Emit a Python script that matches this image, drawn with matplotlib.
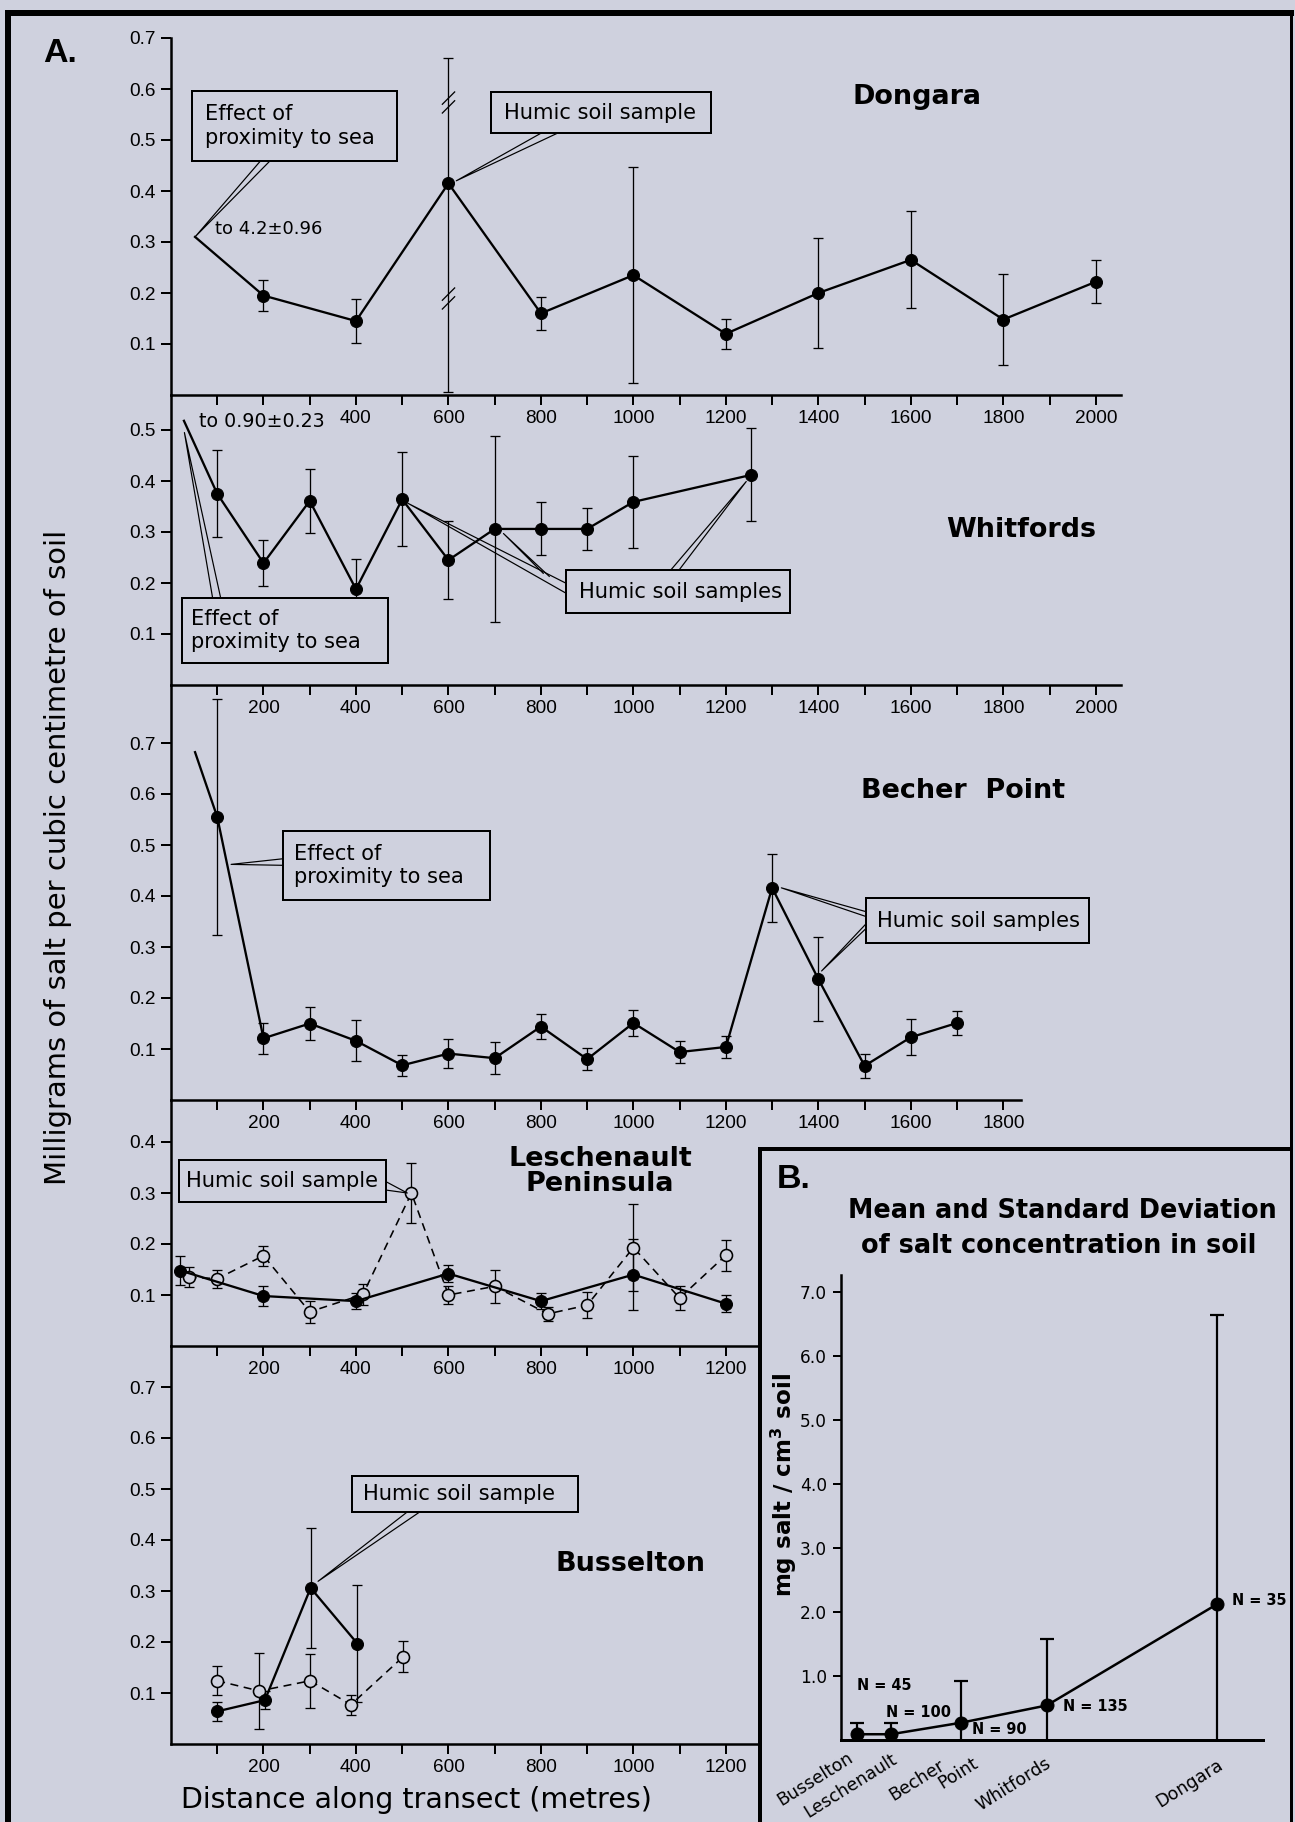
import numpy as np
import matplotlib
matplotlib.use("Agg")
import matplotlib.pyplot as plt
from matplotlib.patches import Rectangle
from matplotlib.lines import Line2D
from matplotlib.path import Path

W, H = 1295, 1822
BG = '#cfd1de'

# ---- Panel A: salt per transect (distance in m, mg salt / cm3 soil, +/- sd) ----
dongara_x = [200, 400, 600, 800, 1000, 1200, 1400, 1600, 1800, 2000]
dongara_y = [0.195, 0.145, 0.415, 0.160, 0.235, 0.120, 0.200, 0.265, 0.148, 0.222]
dongara_sd_up = [0.030, 0.044, 0.245, 0.032, 0.212, 0.030, 0.107, 0.095, 0.090, 0.042]
dongara_sd_dn = [0.030, 0.044, 0.410, 0.032, 0.212, 0.030, 0.107, 0.095, 0.090, 0.042]
dongara_breaks = [0.575, 0.19]  # break marks on the 600 m error bar

whitfords_x = [100, 200, 300, 400, 500, 600, 700, 800, 900, 1000, 1255]
whitfords_y = [0.375, 0.239, 0.361, 0.188, 0.364, 0.245, 0.306, 0.306, 0.306, 0.359, 0.412]
whitfords_sd = [0.085, 0.045, 0.063, 0.059, 0.092, 0.076, 0.183, 0.052, 0.041, 0.091, 0.091]

becher_x = [100, 200, 300, 400, 500, 600, 700, 800, 900, 1000, 1100, 1200, 1300, 1400, 1500, 1600, 1700]
becher_y = [0.555, 0.121, 0.150, 0.116, 0.068, 0.091, 0.082, 0.144, 0.080, 0.151, 0.094, 0.104,
            0.416, 0.237, 0.067, 0.123, 0.151]
becher_sd = [0.232, 0.030, 0.033, 0.040, 0.020, 0.028, 0.031, 0.024, 0.021, 0.025, 0.022, 0.022,
             0.066, 0.083, 0.024, 0.035, 0.023]

lesch_closed_x = [20, 200, 400, 600, 800, 1000, 1200]
lesch_closed_y = [0.148, 0.098, 0.088, 0.142, 0.088, 0.140, 0.083]
lesch_closed_sd = [0.028, 0.019, 0.016, 0.016, 0.016, 0.070, 0.017]
lesch_open_x = [38, 100, 200, 300, 415, 520, 600, 700, 815, 900, 1000, 1100, 1200]
lesch_open_y = [0.135, 0.132, 0.177, 0.067, 0.101, 0.300, 0.100, 0.117, 0.063, 0.080, 0.193, 0.094, 0.178]
lesch_open_sd = [0.020, 0.018, 0.020, 0.022, 0.020, 0.058, 0.018, 0.032, 0.013, 0.026, 0.086, 0.023, 0.030]

bussel_closed_x = [100, 203, 302, 403]
bussel_closed_y = [0.064, 0.086, 0.306, 0.197]
bussel_closed_sd = [0.018, 0.017, 0.118, 0.115]
bussel_open_x = [100, 191, 301, 389, 502]
bussel_open_y = [0.124, 0.104, 0.124, 0.077, 0.171]
bussel_open_sd = [0.028, 0.075, 0.053, 0.020, 0.030]

dongara_yticks = [0.1, 0.2, 0.3, 0.4, 0.5, 0.6, 0.7]
whitfords_yticks = [0.1, 0.2, 0.3, 0.4, 0.5]
becher_yticks = [0.1, 0.2, 0.3, 0.4, 0.5, 0.6, 0.7]
lesch_yticks = [0.1, 0.2, 0.3, 0.4]
bussel_yticks = [0.1, 0.2, 0.3, 0.4, 0.5, 0.6, 0.7]

# ---- Panel B: mean and sd per site ----
b_sites = [['Busselton'], ['Leschenault'], ['Becher', 'Point'], ['Whitfords'], ['Dongara']]
b_pos = [0.38, 1.19, 2.86, 4.90, 8.95]
b_mean = [0.09, 0.09, 0.27, 0.54, 2.12]
b_sd = [0.18, 0.18, 0.65, 1.04, 4.52]
b_n = [45, 100, 90, 135, 35]
b_yticks = [1, 2, 3, 4, 5, 6, 7]

plt.rcParams['font.family'] = ['Liberation Sans', 'DejaVu Sans']
plt.rcParams['mathtext.default'] = 'regular'

fig = plt.figure(figsize=(W / 72, H / 72), dpi=72)
fig.patch.set_facecolor(BG)

X0 = 171      # pixel column of 0 m
PX_M = 0.4624  # pixels per metre
PX_Y = 510     # pixels per mg/cm3
ANN = dict(family='DejaVu Sans', fontsize=21)
TITLE = dict(family='DejaVu Sans', fontsize=27, fontweight='bold', ha='center', va='center')


def make_panel(top, bottom, xmax, yticks, skip200=False):
    ax = fig.add_axes([X0 / W, 1 - bottom / H, xmax * PX_M / W, (bottom - top) / H])
    ax.set_facecolor('none')
    ax.set_xlim(0, xmax)
    ax.set_ylim(0, (bottom - top) / PX_Y)
    ax.spines[['top', 'right']].set_visible(False)
    ax.spines[['left', 'bottom']].set_linewidth(2.5)
    major = np.arange(200, xmax + 1, 200)
    ax.set_xticks(major)
    ax.set_xticklabels(['' if (skip200 and m == 200) else str(m) for m in major])
    ax.set_xticks(np.arange(100, xmax + 1, 200), minor=True)
    ax.set_yticks(yticks)
    ax.set_yticklabels([f'{t:.1f}' for t in yticks])
    ax.tick_params(which='both', direction='out', length=10, width=2, labelsize=19, pad=5)
    return ax


def closed_series(ax, x, y, sd_dn, sd_up=None):
    if sd_up is None:
        sd_up = sd_dn
    ax.errorbar(x, y, yerr=[sd_dn, sd_up], fmt='none', ecolor='black',
                elinewidth=1.3, capsize=5, capthick=1.3, zorder=2)
    ax.plot(x, y, color='black', lw=2.3, marker='o', ms=12, mfc='black', mec='black', zorder=3)


def open_series(ax, x, y, sd):
    ax.errorbar(x, y, yerr=sd, fmt='none', ecolor='black',
                elinewidth=1.3, capsize=5, capthick=1.3, zorder=2)
    ax.plot(x, y, color='black', lw=1.6, ls=(0, (5, 3.5)), marker='o', ms=12,
            mfc=BG, mec='black', mew=1.6, zorder=3)


def callout(ax, text, box, wedges, pad=13):
    x0, y0, x1, y1 = box
    ax.add_patch(Rectangle((x0, y0), x1 - x0, y1 - y0, fc=BG, ec='black', lw=2, zorder=6,
                           clip_on=False))
    ax.annotate(text, xy=(x0, (y0 + y1) / 2), xytext=(pad, 0), textcoords='offset points',
                ha='left', va='center', linespacing=1.2, zorder=7, annotation_clip=False, **ANN)
    for tip, b1, b2 in wedges:
        ax.plot([b1[0], tip[0], b2[0]], [b1[1], tip[1], b2[1]], color='black', lw=1.2,
                zorder=5, solid_joinstyle='round', clip_on=False)


def lead(ax, tip, x, y):
    # line running off-scale toward the first (very salty) sample
    ax.plot([tip[0], x[0]], [tip[1], y[0]], color='black', lw=2.3, zorder=3)


# ---------------- Dongara ----------------
ax1 = make_panel(38, 395, 2054, dongara_yticks, skip200=True)
closed_series(ax1, dongara_x, dongara_y, dongara_sd_dn, dongara_sd_up)
lead(ax1, (52, 0.31), dongara_x, dongara_y)
brk = Path([(-0.6, -1.0), (0.6, 0.2), (-0.6, -0.2), (0.6, 1.0)],
           [Path.MOVETO, Path.LINETO, Path.MOVETO, Path.LINETO])
ax1.plot([dongara_x[2]] * len(dongara_breaks), dongara_breaks, ls='none', marker=brk, ms=22,
         mec='black', mew=1.3, zorder=4)
callout(ax1, 'Effect of\nproximity to sea', (45, 0.459, 489, 0.596),
        [((52, 0.31), (204, 0.47), (226, 0.47))])
callout(ax1, 'Humic soil sample', (693, 0.513, 1167, 0.594),
        [((617, 0.42), (823, 0.525), (863, 0.525))])
ax1.text(96, 0.325, 'to 4.2\u00b10.96', ha='left', va='center', family='DejaVu Sans', fontsize=18)
ax1.text(1613, 0.585, 'Dongara', **TITLE)

# ---------------- Whitfords ----------------
ax2 = make_panel(395, 685, 2054, whitfords_yticks)
closed_series(ax2, whitfords_x, whitfords_y, whitfords_sd)
lead(ax2, (28, 0.518), whitfords_x, whitfords_y)
callout(ax2, 'Effect of\nproximity to sea', (24, 0.043, 470, 0.171),
        [((29, 0.495), (92, 0.16), (110, 0.16))], pad=9)
callout(ax2, 'Humic soil samples', (854, 0.141, 1339, 0.225),
        [((513, 0.356), (862, 0.196), (862, 0.176)),
         ((719, 0.297), (805, 0.219), (818, 0.213)),
         ((1244, 0.399), (1071, 0.215), (1090, 0.215))])
ax2.text(60, 0.516, 'to 0.90\u00b10.23', ha='left', va='center', family='DejaVu Sans', fontsize=19)
ax2.text(1838, 0.304, 'Whitfords', **TITLE)

# ---------------- Becher Point ----------------
ax3 = make_panel(685, 1100, 1838, becher_yticks)
closed_series(ax3, becher_x, becher_y, becher_sd)
lead(ax3, (52, 0.682), becher_x, becher_y)
callout(ax3, 'Effect of\nproximity to sea', (242, 0.392, 689, 0.528),
        [((130, 0.462), (252, 0.474), (252, 0.460))], pad=11)
callout(ax3, 'Humic soil samples', (1503, 0.307, 1986, 0.396),
        [((1320, 0.416), (1512, 0.367), (1512, 0.357)),
         ((1407, 0.253), (1512, 0.354), (1512, 0.344))], pad=11)
ax3.text(1714, 0.606, 'Becher  Point', **TITLE)

# ---------------- Leschenault Peninsula ----------------
ax4 = make_panel(1100, 1346, 1267, lesch_yticks)
open_series(ax4, lesch_open_x, lesch_open_y, lesch_open_sd)
closed_series(ax4, lesch_closed_x, lesch_closed_y, lesch_closed_sd)
callout(ax4, 'Humic soil sample', (18, 0.283, 465, 0.364),
        [((511, 0.30), (455, 0.327), (455, 0.307))], pad=7)
ax4.text(928, 0.343, 'Leschenault\nPeninsula', linespacing=0.95, **TITLE)

# ---------------- Busselton ----------------
ax5 = make_panel(1346, 1744, 1267, bussel_yticks)
open_series(ax5, bussel_open_x, bussel_open_y, bussel_open_sd)
closed_series(ax5, bussel_closed_x, bussel_closed_y, bussel_closed_sd)
callout(ax5, 'Humic soil sample', (392, 0.454, 880, 0.526),
        [((318, 0.319), (518, 0.46), (546, 0.46))], pad=11)
ax5.text(993, 0.352, 'Busselton', **TITLE)

fig.text(60 / W, 1 - 54 / H, 'A.', fontsize=34, fontweight='bold', ha='center', va='center')
fig.text(58 / W, 1 - 857 / H, 'Milligrams of salt per cubic centimetre of soil', rotation=90,
         ha='center', va='center', family='DejaVu Sans', fontsize=29)
fig.text(416 / W, 1 - 1800 / H, 'Distance along transect (metres)', ha='center', va='center',
         family='DejaVu Sans', fontsize=28.5)

# ---------------- Panel B ----------------
fig.add_artist(Rectangle((760 / W, 0), (1291 - 760) / W, (H - 1149) / H,
                         transform=fig.transFigure, fc=BG, ec='none', zorder=1))


def fig_line(x0, y0, x1, y1, lw):
    fig.add_artist(Line2D([x0 / W, x1 / W], [1 - y0 / H, 1 - y1 / H], color='black', lw=lw,
                          solid_capstyle='projecting', zorder=10))


fig_line(760, 1149, 760, H, 4)
fig_line(760, 1149, 1291, 1149, 4)

B_TOP, B_BOT, B_PX = 1275, 1740, 64.0
axb = fig.add_axes([841 / W, 1 - B_BOT / H, 422 / W, (B_BOT - B_TOP) / H], zorder=3)
axb.set_facecolor('none')
axb.set_xlim(0, 10.05)
axb.set_ylim(0, (B_BOT - B_TOP) / B_PX)
axb.spines[['top', 'right']].set_visible(False)
axb.spines['left'].set_linewidth(2.5)
axb.spines['bottom'].set_linewidth(3)
axb.errorbar(b_pos, b_mean, yerr=b_sd, fmt='none', ecolor='black', elinewidth=2.2,
             capsize=7, capthick=2.2, zorder=2)
axb.plot(b_pos, b_mean, color='black', lw=2.5, marker='o', ms=13, zorder=3, clip_on=False)
axb.set_xticks([])
axb.set_yticks(b_yticks)
axb.set_yticklabels([f'{t:.1f}' for t in b_yticks])
axb.tick_params(axis='y', direction='out', length=8, width=2, labelsize=17, pad=6)
for lab in axb.get_yticklabels():
    lab.set_family('DejaVu Sans')

n_offsets = [(0, 49), (-5, 22), (11, -7), (16, -1), (15, 4)]
for x, y, n, off in zip(b_pos, b_mean, b_n, n_offsets):
    axb.annotate(f'N = {n}', xy=(x, y), xytext=off, textcoords='offset points', ha='left',
                 va='center', family='DejaVu Sans', fontsize=14.5, fontweight='bold',
                 annotation_clip=False)

label_offsets = [[(-10, -9)], [(0, -10)], [(-23, -16), (11, -14)], [(-2, -14)], [(0, -16)]]
for x, words, offs in zip(b_pos, b_sites, label_offsets):
    for word, off in zip(words, offs):
        axb.annotate(word, xy=(x, 0), xytext=off, textcoords='offset points', ha='right',
                     va='top', rotation=32, rotation_mode='anchor', family='DejaVu Sans',
                     fontsize=17.5, annotation_clip=False)

fig.text(794 / W, 1 - 1179 / H, 'B.', fontsize=34, fontweight='bold', ha='center', va='center')
fig.text(1062 / W, 1 - 1211 / H, 'Mean and Standard Deviation', ha='center', va='center',
         family='DejaVu Sans', fontsize=25.5, fontweight='bold')
fig.text(1059 / W, 1 - 1246 / H, 'of salt concentration in soil', ha='center', va='center',
         family='DejaVu Sans', fontsize=25.5, fontweight='bold')
fig.text(784 / W, 1 - 1485 / H, 'mg salt / cm$^3$ soil', rotation=90, ha='center', va='center',
         family='DejaVu Sans', fontsize=23, fontweight='bold')

# outer frame (its lower edge lies outside the scanned area)
fig_line(8, 13, 8, H, 6)
fig_line(8, 13, 1291, 13, 6)
fig_line(1291, 13, 1291, H, 3)

fig.savefig('out.png', dpi=72, facecolor=BG)
